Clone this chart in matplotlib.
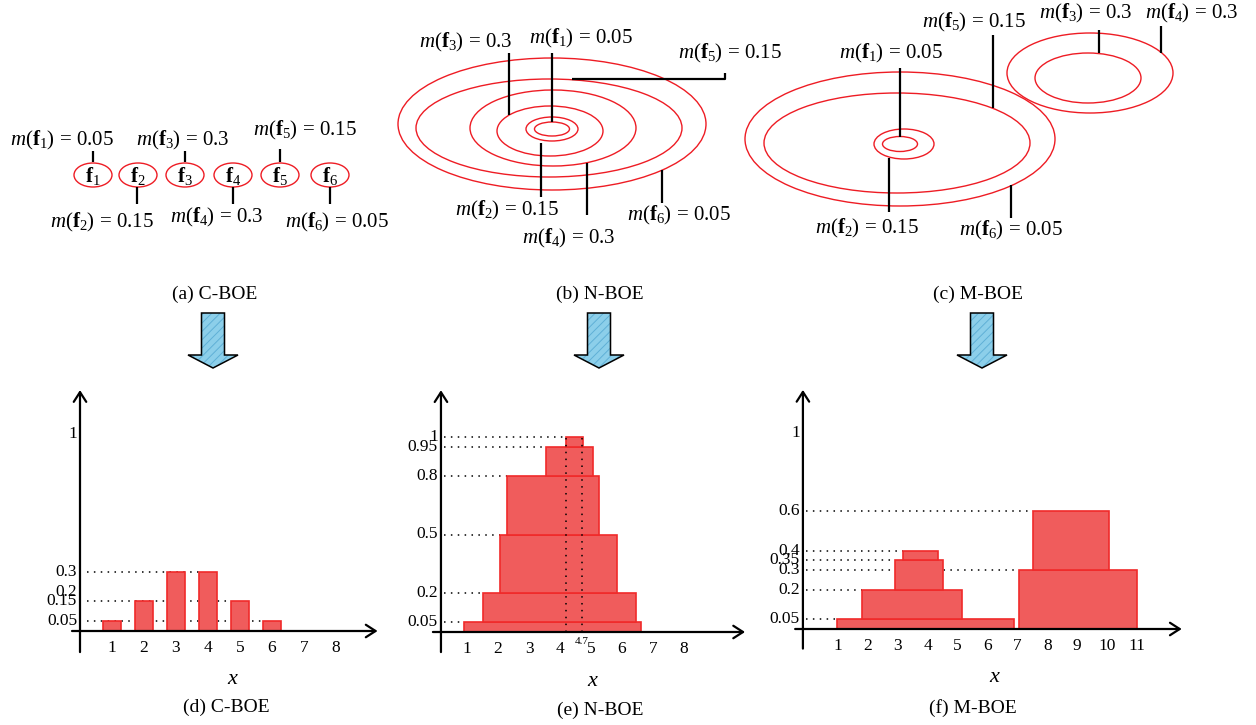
import matplotlib
matplotlib.use('Agg')
import matplotlib.pyplot as plt
from matplotlib.patches import Ellipse, Rectangle, FancyArrow

plt.rcParams['font.family'] = ['Liberation Serif', 'DejaVu Serif']
plt.rcParams['mathtext.fontset'] = 'custom'
plt.rcParams['mathtext.rm'] = 'Liberation Serif'
plt.rcParams['mathtext.it'] = 'Liberation Serif:italic'
plt.rcParams['mathtext.bf'] = 'Liberation Serif:bold'
plt.rcParams['hatch.linewidth'] = 0.7

W, H = 1256, 725

# mass of the six focal elements f1..f6 (same in the three BOE diagrams)
focal_mass = [0.05, 0.15, 0.3, 0.3, 0.15, 0.05]

# (d) C-BOE
c_x = [1, 2, 3, 4, 5, 6]
c_h = [0.05, 0.15, 0.3, 0.3, 0.15, 0.05]
c_xticks = [1, 2, 3, 4, 5, 6, 7, 8]
c_yticks = [1, 0.3, 0.2, 0.15, 0.05]

# (e) N-BOE, stacked layers
n_bottom = [0, 0.05, 0.2, 0.5, 0.8, 0.95]
n_top = [0.05, 0.2, 0.5, 0.8, 0.95, 1.0]
n_left = [0.9, 1.5, 2.06, 2.3, 3.55, 4.2]
n_right = [6.6, 6.45, 5.84, 5.26, 5.06, 4.75]
n_xticks = [1, 2, 3, 4, 5, 6, 7, 8]
n_yticks = [1, 0.95, 0.8, 0.5, 0.2, 0.05]
n_marks = [4.2, 4.7]

# (f) M-BOE, two stacks
m_bottom = [0, 0.05, 0.2, 0.35, 0, 0.3]
m_top = [0.05, 0.2, 0.35, 0.4, 0.3, 0.6]
m_left = [0.97, 1.8, 2.9, 3.17, 7.05, 7.52]
m_right = [6.89, 5.15, 4.5, 4.34, 11.0, 10.06]
m_xticks = [1, 2, 3, 4, 5, 6, 7, 8, 9, 10, 11]
m_yticks = [1, 0.6, 0.4, 0.35, 0.3, 0.2, 0.05]

RED = '#ee1c24'
BAR_FACE = '#f05c5c'
BAR_EDGE = '#f02a2a'
LABEL_FS = 15
CAP_FS = 14
TICK_FS = 12.5


def mass_label(i):
    return r'$m(\mathbf{f}_%d)$ = %g' % (i + 1, focal_mass[i])


fig = plt.figure(figsize=(W / 100, H / 100), dpi=100)
top = fig.add_axes([0, 0, 1, 1])
top.set_xlim(0, W)
top.set_ylim(H, 0)
top.axis('off')

# ---------------- (a) C-BOE : six separate focal elements ----------------
a_cx = [93, 138, 185, 233, 280, 330]
a_label_xy = [(62, 140), (102, 222), (183, 140), (217, 217), (305, 130), (337, 222)]
a_leads = [[(93, 151), (93, 162)], [(137, 187), (137, 204)], [(185, 151), (185, 162)],
           [(233, 187), (233, 204)], [(280, 149), (280, 162)], [(330, 187), (330, 204)]]
for i, cx in enumerate(a_cx):
    top.add_patch(Ellipse((cx, 175), 38, 24, fill=False, ec=RED, lw=1.0))
    top.text(cx, 176, r'$\mathbf{f}_%d$' % (i + 1), ha='center', va='center', fontsize=LABEL_FS)

# ---------------- (b) N-BOE : nested focal elements ----------------
b_ell = [(552, 129, 35, 14), (552, 129, 52, 24), (550, 131, 106, 50),
         (553, 128, 166, 76), (549, 128, 266, 98), (552, 124, 308, 132)]
b_label_xy = [(581, 38), (507, 210), (466, 42), (569, 238), (730, 53), (679, 215)]
b_leads = [[(552, 53), (552, 122)], [(541, 143), (541, 197)], [(509, 53), (509, 115)],
           [(587, 163), (587, 215)], [(572, 79), (725, 79), (725, 73)], [(662, 170), (662, 203)]]

# ---------------- (c) M-BOE : two nested groups ----------------
c_ell = [(900, 144, 35, 15), (904, 144, 60, 30), (1088, 78, 106, 50),
         (1090, 73, 166, 80), (897, 143, 266, 100), (900, 139, 310, 134)]
c_label_xy = [(891, 53), (867, 228), (1086, 13), (1192, 13), (974, 22), (1011, 230)]
c_leads = [[(900, 68), (900, 137)], [(889, 158), (889, 212)], [(1099, 30), (1099, 53)],
           [(1161, 26), (1161, 53)], [(993, 35), (993, 108)], [(1011, 185), (1011, 218)]]

for ells in (b_ell, c_ell):
    for cx, cy, w, h in ells:
        top.add_patch(Ellipse((cx, cy), w, h, fill=False, ec=RED, lw=1.0))

for label_xy, leads in ((a_label_xy, a_leads), (b_label_xy, b_leads), (c_label_xy, c_leads)):
    for i in range(6):
        top.text(label_xy[i][0], label_xy[i][1], mass_label(i), ha='center', va='center',
                 fontsize=LABEL_FS)
        xs = [p[0] for p in leads[i]]
        ys = [p[1] for p in leads[i]]
        top.plot(xs, ys, color='black', lw=1.6, solid_capstyle='butt')

# captions + arrows
for x, cap in ((215, '(a) C-BOE'), (600, '(b) N-BOE'), (978, '(c) M-BOE')):
    top.text(x, 294, cap, ha='center', va='center', fontsize=CAP_FS)
for x in (213, 599, 982):
    kw = dict(width=23, head_width=50, head_length=13, length_includes_head=True)
    top.add_patch(FancyArrow(x, 313, 0, 55, fc='#8ccfea', ec='#5fb0d6', hatch='////', lw=0, **kw))
    top.add_patch(FancyArrow(x, 313, 0, 55, fill=False, ec='black', lw=1.1, **kw))


# ---------------- bottom charts ----------------
def chart_axes(x0, sx, y0, sy, xlim, ylim):
    left_px = x0 + sx * xlim[0]
    right_px = x0 + sx * xlim[1]
    top_px = y0 - sy * ylim[1]
    bot_px = y0 - sy * ylim[0]
    ax = fig.add_axes([left_px / W, 1 - bot_px / H, (right_px - left_px) / W, (bot_px - top_px) / H])
    ax.set_xlim(xlim)
    ax.set_ylim(ylim)
    ax.axis('off')
    return ax


def draw_axes(ax, yaxis_x, x_from, x_to, y_from, y_to):
    ap = dict(arrowstyle='->,head_length=0.7,head_width=0.45', lw=1.6, color='black',
              shrinkA=0, shrinkB=0)
    ax.annotate('', xy=(x_to, 0), xytext=(x_from, 0), arrowprops=ap)
    ax.annotate('', xy=(yaxis_x, y_to), xytext=(yaxis_x, y_from), arrowprops=ap)


def ticks(ax, yaxis_x, xticks, yticks, sx, sy):
    for t in xticks:
        ax.text(t, -17 / sy, str(t), ha='center', va='center', fontsize=TICK_FS)
    for t in yticks:
        ax.text(yaxis_x - 3 / sx, t, '%g' % t, ha='right', va='center', fontsize=TICK_FS)


def dotted(ax, x0, x1, y):
    ax.plot([x0, x1], [y, y], color='black', lw=1.1, ls=(0, (1, 3.5)), zorder=1)


def finish(ax, cap, xlab_x, cap_x, sy, xlab_dy, cap_dy):
    ax.text(xlab_x, -xlab_dy / sy, 'x', style='italic', ha='center', va='center', fontsize=16)
    ax.text(cap_x, -cap_dy / sy, cap, ha='center', va='center', fontsize=CAP_FS)


# (d)
sx, sy = 32, 197
ax = chart_axes(80, sx, 631, sy, (-2.0, 9.6), (-0.45, 1.3))
draw_axes(ax, 0, -0.25, 9.3, -0.107, 1.223)
ticks(ax, 0, c_xticks, c_yticks, sx, sy)
bw = 0.55
ax.bar(c_x, c_h, width=bw, color=BAR_FACE, edgecolor=BAR_EDGE, lw=1.2, zorder=2)
for t in c_yticks:
    lefts = [x - bw / 2 for x, h in zip(c_x, c_h) if h == t]
    if lefts:
        dotted(ax, 0.22, max(lefts), t)
finish(ax, '(d) C-BOE', 4.75, 4.56, sy, 49, 76)

# (e)
sx, sy = 31, 195
ax = chart_axes(436, sx, 632, sy, (-1.8, 10.3), (-0.45, 1.3))
yx = 0.16
draw_axes(ax, yx, -0.1, 9.97, -0.103, 1.24)
ticks(ax, yx, n_xticks, n_yticks, sx, sy)
for b, t, l, r in zip(n_bottom, n_top, n_left, n_right):
    ax.add_patch(Rectangle((l, b), r - l, t - b, fc=BAR_FACE, ec=BAR_EDGE, lw=1.2, zorder=2))
    dotted(ax, yx + 0.1, l, t)
for mx in n_marks:
    ax.plot([mx, mx], [0, 1], color='black', lw=1.1, ls=(0, (1, 3.5)), zorder=3)
ax.text(4.7, -10 / sy, '4.7', ha='center', va='center', fontsize=8)
finish(ax, '(e) N-BOE', 5.03, 5.29, sy, 50, 78)

# (f)
sx, sy = 29.9, 196
ax = chart_axes(808, sx, 629, sy, (-1.8, 12.8), (-0.45, 1.3))
yx = -0.17
draw_axes(ax, yx, -0.43, 12.5, -0.1, 1.22)
ticks(ax, yx, m_xticks, m_yticks, sx, sy)
for b, t, l, r in zip(m_bottom, m_top, m_left, m_right):
    ax.add_patch(Rectangle((l, b), r - l, t - b, fc=BAR_FACE, ec=BAR_EDGE, lw=1.2, zorder=2))
for t in m_yticks:
    lefts = [l for l, tp in zip(m_left, m_top) if tp == t]
    if lefts:
        dotted(ax, yx + 0.1, max(lefts), t)
finish(ax, '(f) M-BOE', 6.22, 5.52, sy, 48, 79)

plt.savefig('out.png', dpi=100)
